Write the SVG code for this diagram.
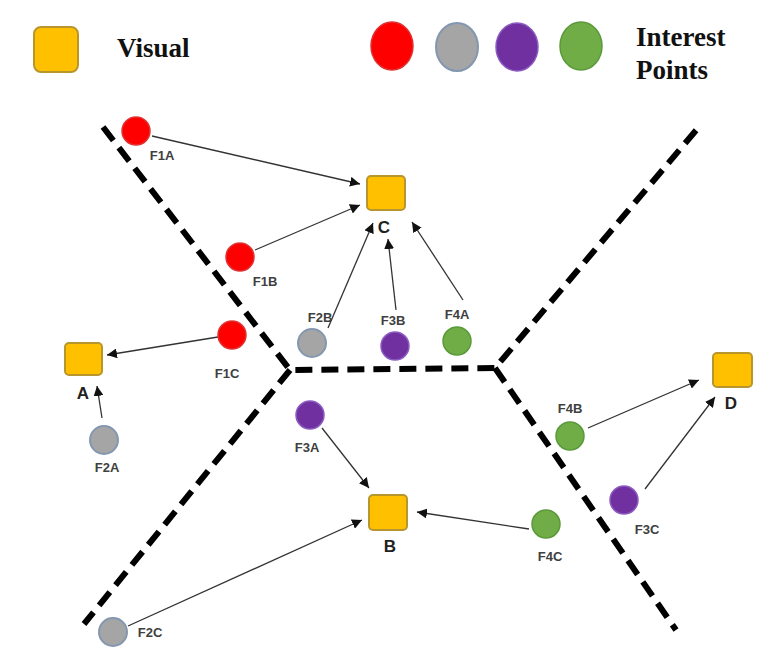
<svg xmlns="http://www.w3.org/2000/svg" width="783" height="664" viewBox="0 0 783 664">
<style>
.sq{fill:#FFC000;stroke:#B8962E;stroke-width:2}
.red{fill:#FF0000;stroke:#E03030;stroke-width:1.5}
.gray{fill:#A5A5A5;stroke:#8497B0;stroke-width:2}
.pur{fill:#7030A0;stroke:#8A5BC0;stroke-width:1.5}
.grn{fill:#70AD47;stroke:#5A9A3A;stroke-width:1.5}
.lbl{font-family:"Liberation Sans",Arial,sans-serif;font-weight:bold;font-size:13px;fill:#404040;text-anchor:middle}
.big{font-family:"Liberation Sans",Arial,sans-serif;font-weight:bold;font-size:17px;fill:#222;text-anchor:middle}
.leg{font-family:"Liberation Serif","Times New Roman",serif;font-weight:bold;font-size:27px;fill:#111}
.dash{stroke:#000;stroke-width:6;stroke-dasharray:17 9;fill:none}
.arr{stroke:#333;stroke-width:1.3;fill:none;marker-end:url(#ah)}
</style>
<defs>
<marker id="ah" viewBox="0 0 10 10" refX="10" refY="5" markerWidth="10" markerHeight="10" markerUnits="userSpaceOnUse" orient="auto">
<path d="M0,0 L10,5 L0,10 z" fill="#111"/>
</marker>
</defs>
<rect width="783" height="664" fill="#fff"/>
<g id="legend">
<rect class="sq" x="34" y="27" width="44" height="45" rx="7"/>
<text class="leg" x="117" y="57">Visual</text>
<ellipse class="red" cx="392" cy="46" rx="21" ry="24"/>
<ellipse class="gray" cx="457" cy="47" rx="21" ry="24"/>
<ellipse class="pur" cx="517" cy="47" rx="21" ry="24"/>
<ellipse class="grn" cx="581" cy="46" rx="21" ry="24"/>
<text class="leg" x="636" y="46" font-size="26">Interest</text>
<text class="leg" x="636" y="79" font-size="26">Points</text>
</g>
<g id="boundaries">
<path class="dash" d="M103,127 L290,370 L495,368 L698,128"/>
<path class="dash" d="M290,370 L84,624"/>
<path class="dash" d="M495,368 L676,630"/>
</g>
<g id="connectors">
<line class="arr" x1="152" y1="136" x2="360" y2="184"/>
<line class="arr" x1="255" y1="250" x2="360" y2="205"/>
<line class="arr" x1="328" y1="328" x2="373" y2="223"/>
<line class="arr" x1="396" y1="310" x2="388" y2="239"/>
<line class="arr" x1="463" y1="300" x2="412" y2="222"/>
<line class="arr" x1="218" y1="337" x2="107" y2="355"/>
<line class="arr" x1="102" y1="418" x2="97" y2="386"/>
<line class="arr" x1="322" y1="428" x2="369" y2="488"/>
<line class="arr" x1="128" y1="626" x2="362" y2="520"/>
<line class="arr" x1="529" y1="529" x2="417" y2="512"/>
<line class="arr" x1="588" y1="428" x2="699" y2="380"/>
<line class="arr" x1="645" y1="489" x2="715" y2="397"/>
</g>
<g id="C"><rect class="sq" x="367" y="176" width="38" height="34" rx="4"/><text class="big" x="384" y="233">C</text></g>
<g id="A"><rect class="sq" x="65" y="343" width="37" height="32" rx="4"/><text class="big" x="83" y="399">A</text></g>
<g id="B"><rect class="sq" x="369" y="495" width="38" height="35" rx="4"/><text class="big" x="390" y="552">B</text></g>
<g id="D"><rect class="sq" x="713" y="353" width="39" height="34" rx="4"/><text class="big" x="731" y="409">D</text></g>
<g id="F1A"><circle class="red" cx="136" cy="131" r="14"/><text class="lbl" x="162" y="160">F1A</text></g>
<g id="F1B"><circle class="red" cx="240" cy="257" r="14"/><text class="lbl" x="265" y="286">F1B</text></g>
<g id="F1C"><circle class="red" cx="232" cy="335" r="14"/><text class="lbl" x="227" y="378">F1C</text></g>
<g id="F2B"><circle class="gray" cx="312" cy="343" r="14"/><text class="lbl" x="320" y="322">F2B</text></g>
<g id="F3B"><circle class="pur" cx="395" cy="346" r="14"/><text class="lbl" x="393" y="325">F3B</text></g>
<g id="F4A"><circle class="grn" cx="457" cy="341" r="14"/><text class="lbl" x="457" y="319">F4A</text></g>
<g id="F2A"><circle class="gray" cx="104" cy="440" r="14"/><text class="lbl" x="107" y="472">F2A</text></g>
<g id="F3A"><circle class="pur" cx="310" cy="415" r="14"/><text class="lbl" x="307" y="452">F3A</text></g>
<g id="F2C"><circle class="gray" cx="113" cy="632" r="14"/><text class="lbl" x="150" y="637">F2C</text></g>
<g id="F4B"><circle class="grn" cx="570" cy="436" r="14"/><text class="lbl" x="570" y="413">F4B</text></g>
<g id="F3C"><circle class="pur" cx="624" cy="500" r="14"/><text class="lbl" x="647" y="534">F3C</text></g>
<g id="F4C"><circle class="grn" cx="546" cy="524" r="14"/><text class="lbl" x="550" y="561">F4C</text></g>
</svg>
